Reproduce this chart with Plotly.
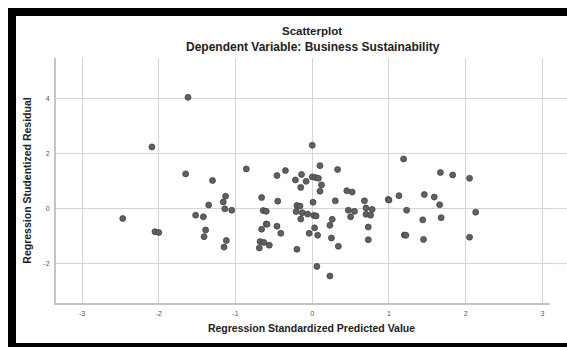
import plotly.graph_objects as go

# Regression Standardized Predicted Value (x) and Regression Studentized Residual (y)
pred = [-2.47, -2.05, -2.00, -2.09, -1.62, -1.65, -1.52, -1.42, -1.39, -1.41,
        -1.35, -1.30, -1.16, -1.13, -1.14, -1.05, -1.12, -1.15, -0.86, -0.66,
        -0.64, -0.60, -0.66, -0.60, -0.59, -0.68, -0.63, -0.56, -0.69, -0.46,
        -0.35, -0.45, -0.46, -0.41, -0.22, -0.14, -0.08, -0.15, -0.20, -0.16,
        -0.21, -0.13, -0.06, -0.15, -0.20, 0.00, 0.00, 0.04, 0.08, 0.10,
        0.12, 0.10, 0.01, 0.02, 0.05, 0.03, -0.04, 0.07, 0.06, 0.23,
        0.23, 0.25, 0.26, 0.30, 0.33, 0.34, 0.45, 0.52, 0.47, 0.55,
        0.50, 0.68, 0.70, 0.78, 0.70, 0.76, 0.73, 0.73, 0.99, 1.00,
        1.13, 1.19, 1.23, 1.20, 1.22, 1.44, 1.45, 1.46, 1.59, 1.66,
        1.67, 1.68, 1.83, 2.05, 2.05, 2.13]
resid = [-0.36, -0.84, -0.87, 2.24, 4.04, 1.26, -0.24, -0.30, -0.78, -1.02,
         0.13, 1.02, 0.24, 0.45, -0.01, -0.06, -1.16, -1.40, 1.44, 0.40,
         -0.07, -0.10, -0.75, -0.56, -0.57, -1.20, -1.23, -1.33, -1.43, 1.20,
         1.38, 0.27, -0.64, -0.90, 1.04, 1.24, 0.99, 0.77, 0.11, 0.09,
         -0.11, -0.15, -0.20, -0.38, -1.48, 2.30, 1.15, 1.13, 1.10, 1.56,
         0.86, 0.63, 0.23, -0.25, -0.27, -0.70, -0.90, -0.97, -2.10, -2.45,
         -0.61, -1.07, -0.39, 0.28, 1.42, -1.37, 0.65, 0.60, -0.06, -0.10,
         -0.30, 0.28, 0.02, -0.03, -0.21, -0.24, -0.67, -1.13, 0.33, 0.31,
         0.47, 1.80, -0.06, -0.96, -0.97, -0.41, -1.12, 0.51, 0.42, 0.14,
         1.31, -0.33, 1.22, 1.10, -1.04, -0.13]

x_ticks = [-3, -2, -1, 0, 1, 2, 3]
y_ticks = [-2, 0, 2, 4]

title_text = "Scatterplot"
subtitle_text = "Dependent Variable: Business Sustainability"
x_title = "Regression Standardized Predicted Value"
y_title = "Regression Studentized Residual"

W, H = 567, 347
L, R, T, B = 56, 0, 58, 347 - 303

fig = go.Figure()
fig.add_trace(go.Scatter(
    x=pred, y=resid, mode="markers",
    marker=dict(size=6, color="#606060", line=dict(width=0.7, color="#3c3c3c")),
    hoverinfo="x+y", showlegend=False,
))

font_family = "Liberation Sans, Arial, sans-serif"
grid_col = "#d4d4d4"

fig.update_layout(
    width=W, height=H,
    margin=dict(l=L, r=R, t=T, b=B, pad=0),
    paper_bgcolor="white", plot_bgcolor="white",
    font=dict(family=font_family, color="#222"),
    xaxis=dict(
        range=[-3.34, 3.32], tickvals=x_ticks, ticktext=[str(v) for v in x_ticks],
        showgrid=True, gridcolor=grid_col, gridwidth=1,
        zeroline=False, showline=True, linecolor="#c4c4c4", linewidth=2,
        ticks="", tickfont=dict(size=7, color="#555"), ticklabelstandoff=3,
        title=dict(text="<b>" + x_title + "</b>", font=dict(size=10.5, color="#222"), standoff=8),
    ),
    yaxis=dict(
        range=[-3.43, 5.47], tickvals=y_ticks, ticktext=[str(v) for v in y_ticks],
        showgrid=True, gridcolor=grid_col, gridwidth=1,
        zeroline=False, showline=True, linecolor="#c4c4c4", linewidth=2,
        ticks="", tickfont=dict(size=7, color="#555"), ticklabelstandoff=3,
        title=dict(text="<b>" + y_title + "</b>", font=dict(size=10.5, color="#222"), standoff=10),
    ),
)

def px2paper_x(px):
    return (px - L) / (W - L - R)

def px2paper_y(py):
    return (H - B - py) / (H - B - T)

fig.add_annotation(text="<b>" + title_text + "</b>", x=px2paper_x(312), y=px2paper_y(31),
                   xref="paper", yref="paper", showarrow=False,
                   font=dict(size=11.5, color="#222"), xanchor="center", yanchor="middle")
fig.add_annotation(text="<b>" + subtitle_text + "</b>", x=px2paper_x(313), y=px2paper_y(47),
                   xref="paper", yref="paper", showarrow=False,
                   font=dict(size=12, color="#222"), xanchor="center", yanchor="middle")

# keep the right edge clean (the reference has no right frame bar), then continue the gridlines
fig.add_shape(type="rect", xref="paper", yref="paper",
              x0=px2paper_x(550), x1=px2paper_x(567), y0=px2paper_y(16), y1=px2paper_y(343),
              line=dict(width=0), fillcolor="white", layer="above")
for yv in y_ticks:
    fig.add_shape(type="line", xref="paper", yref="y",
                  x0=px2paper_x(549), x1=px2paper_x(567), y0=yv, y1=yv,
                  line=dict(color=grid_col, width=1), layer="above")

# black frame around the chart: left, top and bottom bars
frame_bars = [(8, 16, 8, 347), (8, 567, 8, 16), (8, 567, 343, 347)]
for x0, x1, y0, y1 in frame_bars:
    fig.add_shape(type="rect", xref="paper", yref="paper",
                  x0=px2paper_x(x0), x1=px2paper_x(x1), y0=px2paper_y(y0), y1=px2paper_y(y1),
                  line=dict(width=0), fillcolor="black", layer="above")

css = ("document.documentElement.style.margin='0';document.documentElement.style.overflow='hidden';"
       "document.body.style.margin='0';document.body.style.overflow='hidden';")
fig.write_html("out.html", config={"displayModeBar": False}, post_script=css)
